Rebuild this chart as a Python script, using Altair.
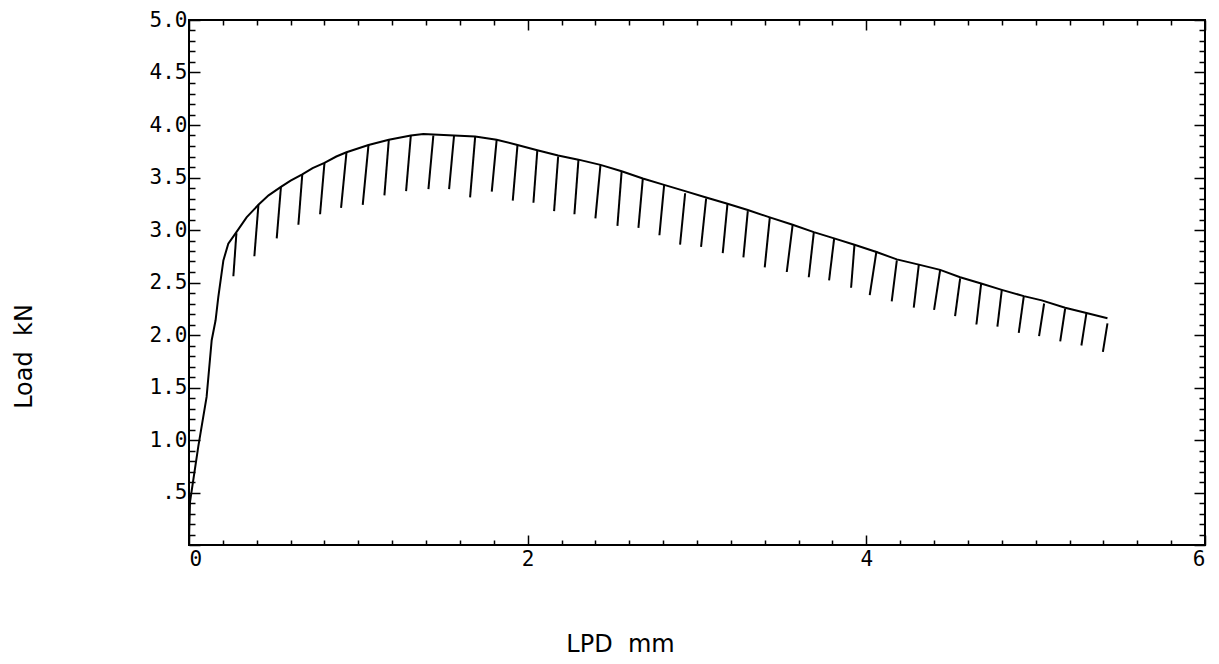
import altair as alt
import pandas as pd

# Envelope (loading) curve: LPD mm vs Load kN
env_x = [0.0, 0.006, 0.055, 0.104, 0.134, 0.157, 0.173, 0.203, 0.232, 0.28, 0.34, 0.41,
         0.47, 0.543, 0.60, 0.669, 0.73, 0.80, 0.87, 0.93, 1.06, 1.18, 1.31, 1.384,
         1.443, 1.565, 1.69, 1.817, 1.94, 2.057, 2.18, 2.30, 2.43, 2.555, 2.68, 2.806,
         2.93, 3.054, 3.18, 3.30, 3.43, 3.565, 3.69, 3.81, 3.93, 4.06, 4.18, 4.31,
         4.436, 4.554, 4.678, 4.80, 4.93, 5.036, 5.174, 5.30, 5.424]
env_y = [0.05, 0.41, 0.94, 1.41, 1.95, 2.14, 2.36, 2.71, 2.87, 2.98, 3.12, 3.24,
         3.33, 3.41, 3.47, 3.53, 3.59, 3.64, 3.70, 3.74, 3.81, 3.86, 3.90, 3.915,
         3.91, 3.90, 3.89, 3.86, 3.81, 3.76, 3.71, 3.67, 3.62, 3.56, 3.49, 3.43,
         3.37, 3.31, 3.25, 3.19, 3.12, 3.05, 2.98, 2.92, 2.86, 2.79, 2.72, 2.67,
         2.62, 2.55, 2.49, 2.43, 2.37, 2.33, 2.26, 2.21, 2.16]

# Unload / reload cycles: top point on the envelope, bottom point of the cycle
cyc_top_x = [0.28, 0.41, 0.543, 0.669, 0.80, 0.93, 1.06, 1.18, 1.31, 1.443, 1.565, 1.69,
             1.817, 1.94, 2.057, 2.18, 2.30, 2.43, 2.555, 2.68, 2.806, 2.93, 3.054, 3.18,
             3.30, 3.43, 3.565, 3.69, 3.81, 3.93, 4.06, 4.18, 4.31, 4.436, 4.554, 4.678,
             4.80, 4.93, 5.05, 5.174, 5.30, 5.424]
cyc_top_y = [2.97, 3.24, 3.41, 3.53, 3.64, 3.74, 3.81, 3.86, 3.90, 3.90, 3.895, 3.89,
             3.86, 3.81, 3.76, 3.70, 3.67, 3.62, 3.56, 3.49, 3.43, 3.35, 3.30, 3.25,
             3.18, 3.12, 3.05, 2.98, 2.92, 2.86, 2.80, 2.71, 2.67, 2.62, 2.54, 2.49,
             2.43, 2.37, 2.30, 2.25, 2.21, 2.11]
cyc_bot_x = [0.262, 0.386, 0.518, 0.646, 0.774, 0.898, 1.026, 1.154, 1.282, 1.414, 1.536, 1.66,
             1.788, 1.912, 2.034, 2.156, 2.276, 2.40, 2.53, 2.654, 2.778, 2.90, 3.024, 3.152,
             3.274, 3.40, 3.53, 3.66, 3.78, 3.91, 4.02, 4.15, 4.28, 4.40, 4.524, 4.65,
             4.774, 4.90, 5.02, 5.145, 5.27, 5.397]
cyc_bot_y = [2.56, 2.75, 2.92, 3.05, 3.15, 3.21, 3.24, 3.33, 3.37, 3.39, 3.39, 3.31,
             3.365, 3.28, 3.26, 3.18, 3.15, 3.11, 3.04, 3.02, 2.95, 2.86, 2.84, 2.78,
             2.74, 2.645, 2.60, 2.55, 2.52, 2.45, 2.38, 2.32, 2.26, 2.24, 2.18, 2.10,
             2.08, 2.02, 1.99, 1.94, 1.90, 1.84]

x_label_values = [0, 2, 4, 6]
y_label_values = [0.5, 1.0, 1.5, 2.0, 2.5, 3.0, 3.5, 4.0, 4.5, 5.0]
x_tick_values = [round(i * 0.2, 1) for i in range(31)]
y_tick_values = [round(i * 0.1, 1) for i in range(51)]

W, H = 1016, 525

env = pd.DataFrame({"x": env_x, "y": env_y, "order": list(range(len(env_x)))})
cyc = pd.DataFrame({"xt": cyc_top_x, "yt": cyc_top_y, "xb": cyc_bot_x, "yb": cyc_bot_y})

xs = alt.Scale(domain=[0, 6], nice=False, zero=False)
ys = alt.Scale(domain=[0, 5], nice=False, zero=False)

x_size = {"condition": {"test": "abs(datum.value/2 - round(datum.value/2)) < 0.001", "value": 10}, "value": 5}
y_size = {"condition": {"test": "abs(datum.value*2 - round(datum.value*2)) < 0.001", "value": 11}, "value": 6}

tick_common = dict(labels=False, domain=False, grid=False, tickColor="black", tickWidth=1.5)

line = alt.Chart(env).mark_line(color="black", strokeWidth=2).encode(
    x=alt.X("x:Q", scale=xs, title="LPD\u00a0 mm",
            axis=alt.Axis(values=x_label_values, ticks=False, domain=False, grid=False,
                          labelPadding=3, labelBaseline="top", labelExpr="format(datum.value, 'd')",
                          titleX=431, titleY=106, titleAlign="center", titleBaseline="alphabetic")),
    y=alt.Y("y:Q", scale=ys, title="Load\u00a0 kN",
            axis=alt.Axis(values=y_label_values, ticks=False, domain=False, grid=False,
                          labelPadding=2,
                          labelExpr="datum.value == 0.5 ? '.5' : format(datum.value, '.1f')",
                          titleX=-158, titleY=336, titleAlign="center",
                          titleBaseline="alphabetic", titleAngle=270)),
    order="order:Q",
)

rules = alt.Chart(cyc).mark_rule(color="black", strokeWidth=2).encode(
    x=alt.X("xt:Q", scale=xs, title=None,
            axis=alt.Axis(orient="top", offset=-H, values=x_tick_values, tickSize=x_size, **tick_common)),
    y=alt.Y("yt:Q", scale=ys, title=None,
            axis=alt.Axis(orient="right", offset=-W, values=y_tick_values, tickSize=y_size, **tick_common)),
    x2="xb:Q",
    y2="yb:Q",
)

frame = alt.Chart(env).mark_point(opacity=0).encode(
    x=alt.X("x:Q", scale=xs, title=None,
            axis=alt.Axis(orient="bottom", offset=-H, values=x_tick_values, tickSize=x_size, **tick_common)),
    y=alt.Y("y:Q", scale=ys, title=None,
            axis=alt.Axis(orient="left", offset=-W, values=y_tick_values, tickSize=y_size, **tick_common)),
)

chart = (
    alt.layer(line, rules, frame)
    .resolve_axis(x="independent", y="independent")
    .properties(
        width=W,
        height=H,
        padding={"left": 181, "top": 12, "right": 6, "bottom": 111},
        autosize=alt.AutoSizeParams(type="none"),
        background="white",
    )
    .configure_view(stroke="black", strokeWidth=2)
    .configure_axis(
        labelFont="DejaVu Sans Mono",
        labelFontSize=21,
        labelColor="black",
        titleFont="DejaVu Sans",
        titleFontSize=24,
        titleFontWeight="normal",
        titleColor="black",
    )
)

chart.save("out.html", embed_options={"renderer": "svg", "actions": False})
